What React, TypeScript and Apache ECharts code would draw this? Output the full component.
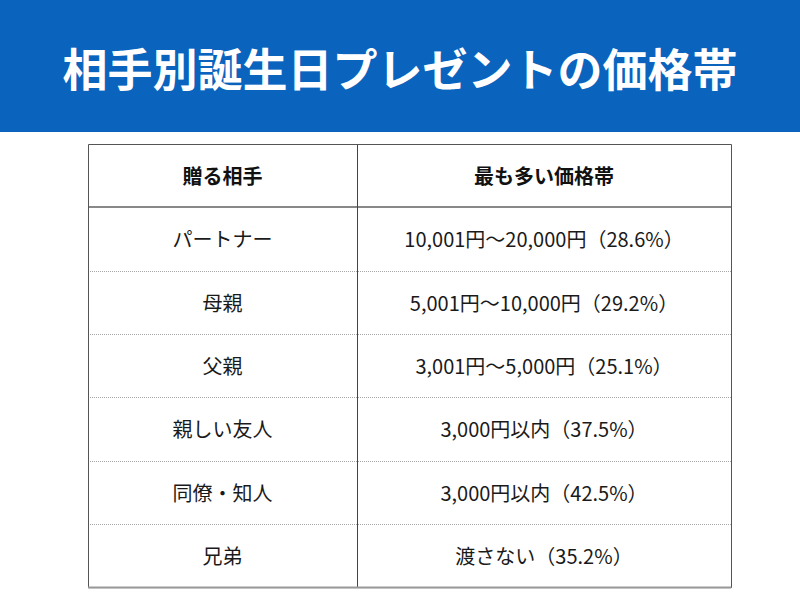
import React, { useEffect, useRef } from "react";
import * as echarts from "echarts";

const titleText = "相手別誕生日プレゼントの価格帯";
const headers = ["贈る相手", "最も多い価格帯"];
const recipients = ["パートナー", "母親", "父親", "親しい友人", "同僚・知人", "兄弟"];
const priceBands = [
  "10,001円〜20,000円（28.6%）",
  "5,001円〜10,000円（29.2%）",
  "3,001円〜5,000円（25.1%）",
  "3,000円以内（37.5%）",
  "3,000円以内（42.5%）",
  "渡さない（35.2%）",
];

const FONT = '"Noto Sans CJK JP", "Noto Sans", sans-serif';

export default function App() {
  const ref = useRef<HTMLDivElement>(null);
  useEffect(() => {
    if (!ref.current) return;
    const chart = echarts.init(ref.current, undefined, { renderer: "svg" });
    const left = 88;
    const right = 731;
    const mid = 357;
    const top = 144;
    const rowH = 63.3;
    const nRows = recipients.length + 1;
    const bottom = top + rowH * nRows;
    const els: any[] = [];
    els.push({ type: "rect", shape: { x: 0, y: 0, width: 800, height: 132 }, style: { fill: "#0A64BE" }, silent: true });
    els.push({
      type: "text",
      x: 400,
      y: 67,
      style: { text: titleText, fill: "#ffffff", font: `bold 45px ${FONT}`, align: "center", verticalAlign: "middle" },
    });
    for (let i = 2; i < nRows; i++) {
      const y = Math.round(top + rowH * i) + 0.5;
      els.push({
        type: "line",
        shape: { x1: left, y1: y, x2: right, y2: y },
        style: { stroke: "#a8a8a8", lineWidth: 1, lineDash: [1, 1] },
      });
    }
    const hy = Math.round(top + rowH);
    els.push({ type: "line", shape: { x1: left, y1: hy, x2: right, y2: hy }, style: { stroke: "#888888", lineWidth: 2 } });
    els.push({ type: "line", shape: { x1: mid + 0.5, y1: top, x2: mid + 0.5, y2: bottom }, style: { stroke: "#444444", lineWidth: 1 } });
    els.push({
      type: "rect",
      shape: { x: left + 0.5, y: top + 0.5, width: right - left, height: bottom - top },
      style: { fill: "none", stroke: "#555555", lineWidth: 1 },
    });
    els.push({ type: "line", shape: { x1: left, y1: bottom + 0.5, x2: right, y2: bottom + 0.5 }, style: { stroke: "#999999", lineWidth: 2 } });
    const c1 = (left + mid) / 2;
    const c2 = (mid + right) / 2;
    headers.forEach((h, j) => {
      els.push({
        type: "text",
        x: j === 0 ? c1 : c2,
        y: top + rowH / 2,
        style: { text: h, fill: "#111111", font: `bold 20px ${FONT}`, align: "center", verticalAlign: "middle" },
      });
    });
    recipients.forEach((r, i) => {
      const y = top + rowH * (i + 1.5);
      els.push({
        type: "text",
        x: c1,
        y,
        style: { text: r, fill: "#1a1a1a", font: `20px ${FONT}`, align: "center", verticalAlign: "middle" },
      });
      els.push({
        type: "text",
        x: c2,
        y,
        style: { text: priceBands[i], fill: "#1a1a1a", font: `20px ${FONT}`, align: "center", verticalAlign: "middle" },
      });
    });
    chart.setOption({ animation: false, backgroundColor: "#ffffff", graphic: { elements: els } });
    return () => chart.dispose();
  }, []);
  return <div ref={ref} style={{ position: "absolute", left: 0, top: 0, width: 800, height: 600 }} />;
}
